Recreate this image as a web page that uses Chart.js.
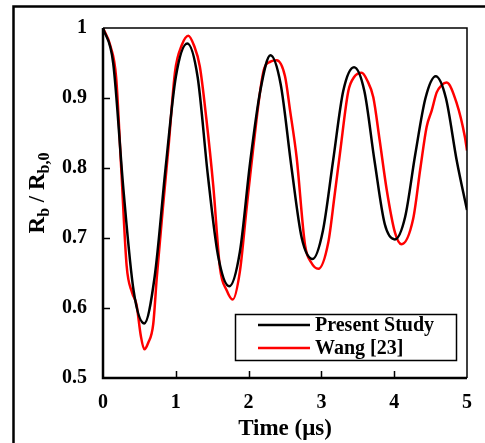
<!DOCTYPE html>
<html>
<head>
<meta charset="utf-8">
<script src="https://cdn.jsdelivr.net/npm/chart.js@4.4.1/dist/chart.umd.min.js"></script>
<style>
  html, body { margin: 0; padding: 0; background: #fff; }
  #wrap { width: 485px; height: 443px; position: relative; }
</style>
</head>
<body>
<div id="wrap"><canvas id="chart" width="485" height="443"></canvas></div>
<script>
// Present Study curve (time in us, Rb/Rb0)
const presentTime = [0, 0.14, 0.28, 0.42, 0.567, 0.71, 0.86, 1.0, 1.158, 1.30, 1.44, 1.58, 1.735, 1.88, 2.02, 2.16, 2.30, 2.44, 2.59, 2.73, 2.88, 3.02, 3.16, 3.30, 3.448, 3.59, 3.73, 3.87, 4.01, 4.15, 4.29, 4.43, 4.57, 4.71, 4.86, 5.0];
const presentRatio = [1.0, 0.95, 0.77, 0.625, 0.578, 0.645, 0.80, 0.93, 0.978, 0.93, 0.79, 0.675, 0.631, 0.68, 0.807, 0.91, 0.961, 0.92, 0.80, 0.70, 0.670, 0.71, 0.81, 0.91, 0.944, 0.91, 0.81, 0.72, 0.698, 0.73, 0.82, 0.90, 0.931, 0.90, 0.81, 0.74];

// Wang [23] curve
const wangTime = [0, 0.10, 0.18, 0.25, 0.325, 0.40, 0.46, 0.52, 0.567, 0.62, 0.69, 0.74, 0.82, 0.90, 0.99, 1.08, 1.172, 1.25, 1.33, 1.42, 1.515, 1.607, 1.70, 1.781, 1.88, 1.97, 2.065, 2.20, 2.30, 2.386, 2.50, 2.57, 2.66, 2.775, 2.86, 2.958, 3.095, 3.18, 3.255, 3.37, 3.45, 3.553, 3.63, 3.713, 3.80, 3.897, 4.01, 4.10, 4.26, 4.36, 4.446, 4.515, 4.584, 4.65, 4.72, 4.86, 4.97, 5.0];
const wangRatio = [1.0, 0.975, 0.93, 0.80, 0.66, 0.622, 0.605, 0.56, 0.541, 0.55, 0.577, 0.645, 0.74, 0.83, 0.938, 0.975, 0.989, 0.975, 0.945, 0.87, 0.774, 0.657, 0.625, 0.612, 0.652, 0.74, 0.830, 0.936, 0.952, 0.954, 0.931, 0.882, 0.815, 0.690, 0.665, 0.656, 0.694, 0.76, 0.821, 0.910, 0.93, 0.936, 0.925, 0.901, 0.84, 0.769, 0.708, 0.691, 0.727, 0.80, 0.859, 0.882, 0.908, 0.918, 0.922, 0.892, 0.845, 0.825];

const seriesLabels = ["Present Study", "Wang [23]"];
const seriesColors = ["#000000", "#ff0000"];
const xTicks = [0, 1, 2, 3, 4, 5];
const yTicks = [0.5, 0.6, 0.7, 0.8, 0.9, 1];

const serif = "'Liberation Serif', 'Times New Roman', serif";

function toPoints(xs, ys) {
    return xs.map(function (x, i) { return { x: x, y: ys[i] }; });
}

// frame, inward ticks, y title with subscripts, legend box
const decorPlugin = {
    id: "decor",
    afterDraw(chart) {
        const ctx = chart.ctx;
        const area = chart.chartArea;
        const xs = chart.scales.x, ys = chart.scales.y;
        ctx.save();
        ctx.strokeStyle = "#000";

        // outer figure frame
        ctx.lineWidth = 2.5;
        ctx.beginPath();
        ctx.moveTo(13.5, 443);
        ctx.lineTo(13.5, 6.5);
        ctx.lineTo(485, 6.5);
        ctx.stroke();

        // plot box
        ctx.lineWidth = 1.5;
        ctx.beginPath();
        ctx.moveTo(area.left, area.top);
        ctx.lineTo(area.right, area.top);
        ctx.lineTo(area.right, area.bottom);
        ctx.stroke();
        ctx.lineWidth = 2.5;
        ctx.beginPath();
        ctx.moveTo(area.left, area.top);
        ctx.lineTo(area.left, area.bottom);
        ctx.lineTo(area.right, area.bottom);
        ctx.stroke();

        // inward ticks
        ctx.lineWidth = 1.5;
        ctx.beginPath();
        yTicks.slice(1, -1).forEach(function (v) {
            const py = Math.round(ys.getPixelForValue(v)) + 0.5;
            ctx.moveTo(area.left, py);
            ctx.lineTo(area.left + 7, py);
        });
        xTicks.slice(1, -1).forEach(function (v) {
            const px = Math.round(xs.getPixelForValue(v)) + 0.5;
            ctx.moveTo(px, area.bottom);
            ctx.lineTo(px, area.bottom - 7);
        });
        ctx.stroke();

        // y axis title: R_b / R_b,0
        const parts = [
            { t: "R", sub: false },
            { t: "b", sub: true },
            { t: " / R", sub: false },
            { t: "b,0", sub: true }
        ];
        const big = "bold 23px " + serif, small = "bold 16px " + serif;
        let total = 0;
        parts.forEach(function (p) {
            ctx.font = p.sub ? small : big;
            p.w = ctx.measureText(p.t).width;
            total += p.w;
        });
        ctx.translate(44, 193);
        ctx.rotate(-Math.PI / 2);
        ctx.fillStyle = "#000";
        ctx.textBaseline = "alphabetic";
        ctx.textAlign = "left";
        let cx = -total / 2;
        parts.forEach(function (p) {
            ctx.font = p.sub ? small : big;
            ctx.fillText(p.t, cx, p.sub ? 5 : 0);
            cx += p.w;
        });
        ctx.setTransform(1, 0, 0, 1, 0, 0);

        // legend
        const bx = 235.5, by = 314.5, bw = 221, bh = 46;
        ctx.fillStyle = "#fff";
        ctx.fillRect(bx, by, bw, bh);
        ctx.lineWidth = 1.5;
        ctx.strokeRect(bx, by, bw, bh);
        ctx.font = "bold 20px " + serif;
        ctx.textBaseline = "middle";
        chart.data.datasets.forEach(function (ds, i) {
            const ly = 325 + i * 23;
            ctx.strokeStyle = ds.borderColor;
            ctx.lineWidth = 2.5;
            ctx.beginPath();
            ctx.moveTo(258, ly);
            ctx.lineTo(310, ly);
            ctx.stroke();
            ctx.fillStyle = "#000";
            ctx.fillText(ds.label, 315, ly + 1);
        });
        ctx.restore();
    }
};

new Chart(document.getElementById("chart").getContext("2d"), {
    type: "line",
    data: {
        datasets: [
            {
                label: seriesLabels[0],
                data: toPoints(presentTime, presentRatio),
                borderColor: seriesColors[0],
                borderWidth: 2.5,
                pointRadius: 0,
                cubicInterpolationMode: "monotone",
                fill: false
            },
            {
                label: seriesLabels[1],
                data: toPoints(wangTime, wangRatio),
                borderColor: seriesColors[1],
                borderWidth: 2.5,
                pointRadius: 0,
                cubicInterpolationMode: "monotone",
                fill: false
            }
        ]
    },
    options: {
        responsive: false,
        animation: false,
        layout: { padding: { left: 0, top: 23, right: 18, bottom: 0 } },
        plugins: { legend: { display: false }, tooltip: { enabled: false } },
        scales: {
            x: {
                type: "linear",
                min: 0,
                max: 5,
                afterBuildTicks: function (s) { s.ticks = xTicks.map(function (v) { return { value: v }; }); },
                afterFit: function (s) { s.height = 65; },
                grid: { display: false, drawTicks: false },
                border: { display: false },
                ticks: {
                    color: "#000", padding: 13,
                    font: { family: serif, size: 20, weight: "bold" },
                    callback: function (v) { return String(v); }
                },
                title: {
                    display: true,
                    text: "Time (μs)",
                    color: "#000",
                    padding: { top: 0, bottom: 0 },
                    font: { family: serif, size: 23, weight: "bold" }
                }
            },
            y: {
                min: 0.5,
                max: 1,
                afterBuildTicks: function (s) { s.ticks = yTicks.map(function (v) { return { value: v }; }); },
                afterFit: function (s) { s.width = 103; },
                grid: { display: false, drawTicks: false },
                border: { display: false },
                ticks: {
                    color: "#000", padding: 16,
                    font: { family: serif, size: 20, weight: "bold" },
                    callback: function (v) { return String(v); }
                }
            }
        }
    },
    plugins: [decorPlugin]
});
</script>
</body>
</html>
